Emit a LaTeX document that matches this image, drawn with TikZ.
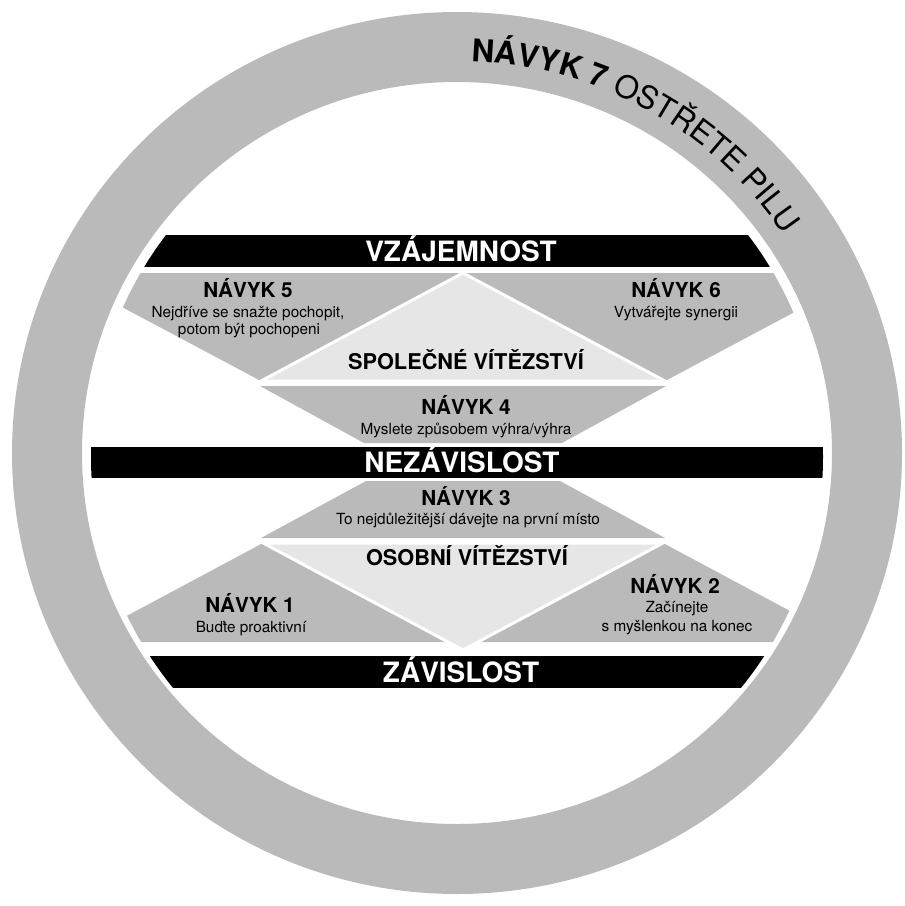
\documentclass[tikz,border=0pt]{standalone}
\usepackage{fontspec}
\setmainfont{TeX Gyre Heros}
\usetikzlibrary{decorations.text}

\definecolor{ringgray}{RGB}{186,186,186}
\definecolor{wingray}{RGB}{230,230,230}

\begin{document}
\begin{tikzpicture}[x=0.75pt,y=0.75pt,yscale=-1,xscale=1,
  habit/.style={fill=ringgray},
  win/.style={fill=wingray,draw=white,line width=2.25pt},
  bar/.style={fill=black},
  bartext/.style={anchor=base,inner sep=0pt,text=white,font=\fontsize{21}{25}\selectfont\bfseries},
  habittitle/.style={anchor=base,inner sep=0pt,font=\fontsize{15.5}{18}\selectfont\bfseries},
  wintitle/.style={anchor=base,inner sep=0pt,font=\fontsize{16.3}{19}\selectfont\bfseries},
  habitsub/.style={anchor=base,inner sep=0pt,font=\fontsize{11.5}{14}\selectfont}]
\useasboundingbox (0,0) rectangle (904,906);

%Shape: Ring
\fill[ringgray,even odd rule] (457,453) ellipse (445 and 441) (457,453) ellipse (375 and 371);

%Text along the ring
\begin{scope}[yscale=-1]
\path[decorate,decoration={text along path,text align=center,
  text={|\fontsize{23.5}{28}\selectfont\bfseries|NÁVYK 7 |\fontsize{23.5}{28}\selectfont\mdseries|OSTŘETE PILU}}]
  (457,-455) ++(113:394) arc[start angle=113,end angle=9,radius=394];
\end{scope}

\begin{scope}
\clip (457,457) circle (366);
%Shape: Bars
\fill[bar] (0,235) rectangle (904,267);
\fill[bar] (0,447) rectangle (904,478);
\fill[bar] (0,656) rectangle (904,688);
%Shape: Habits 5 and 6
\fill[habit] (58,273) -- (463,273) -- (261,381) -- cycle;
\fill[habit] (463,273) -- (868,273) -- (665,381) -- cycle;
\draw[win] (261,381) -- (463,273) -- (665,381) -- cycle;
%Shape: Habit 4
\fill[habit] (260,386) -- (666,386) -- (562,443) -- (364,443) -- cycle;
%Shape: Habit 3
\fill[habit] (366,481) -- (560,481) -- (665,538) -- (261,538) -- cycle;
%Shape: Habits 1 and 2
\fill[habit] (263,543) -- (448,642) -- (78,642) -- cycle;
\fill[habit] (663,543) -- (848,642) -- (478,642) -- cycle;
\draw[win] (263,543) -- (663,543) -- (463,650) -- cycle;
\end{scope}

% Text Node
\node[bartext] (vzaj) at (461,261) {VZÁJEMNOST};
\node[bartext] (nezav) at (462,472) {NEZÁVISLOST};
\node[bartext] (zav) at (461,682) {ZÁVISLOST};
% Text Node
\node[wintitle] (spol) at (466,369) {SPOLEČNÉ VÍTĚZSTVÍ};
\node[wintitle] (osob) at (467,565) {OSOBNÍ VÍTĚZSTVÍ};
% Text Node
\node[habittitle] (h5) at (248,297) {NÁVYK 5};
\node[habitsub] (h5a) at (248,317) {Nejdříve se snažte pochopit,};
\node[habitsub] (h5b) at (249,334) {potom být pochopeni};
\node[habittitle] (h6) at (676,297) {NÁVYK 6};
\node[habitsub] (h6a) at (676,317) {Vytvářejte synergii};
\node[habittitle] (h4) at (466,414) {NÁVYK 4};
\node[habitsub] (h4a) at (466,434) {Myslete způsobem výhra/výhra};
\node[habittitle] (h3) at (466,505) {NÁVYK 3};
\node[habitsub] (h3a) at (468,524) {To nejdůležitější dávejte na první místo};
\node[habittitle] (h1) at (250,612) {NÁVYK 1};
\node[habitsub] (h1a) at (251,632) {Buďte proaktivní};
\node[habittitle] (h2) at (675,593) {NÁVYK 2};
\node[habitsub] (h2a) at (677,612) {Začínejte};
\node[habitsub] (h2b) at (677,631) {s myšlenkou na konec};

\end{tikzpicture}
\end{document}
